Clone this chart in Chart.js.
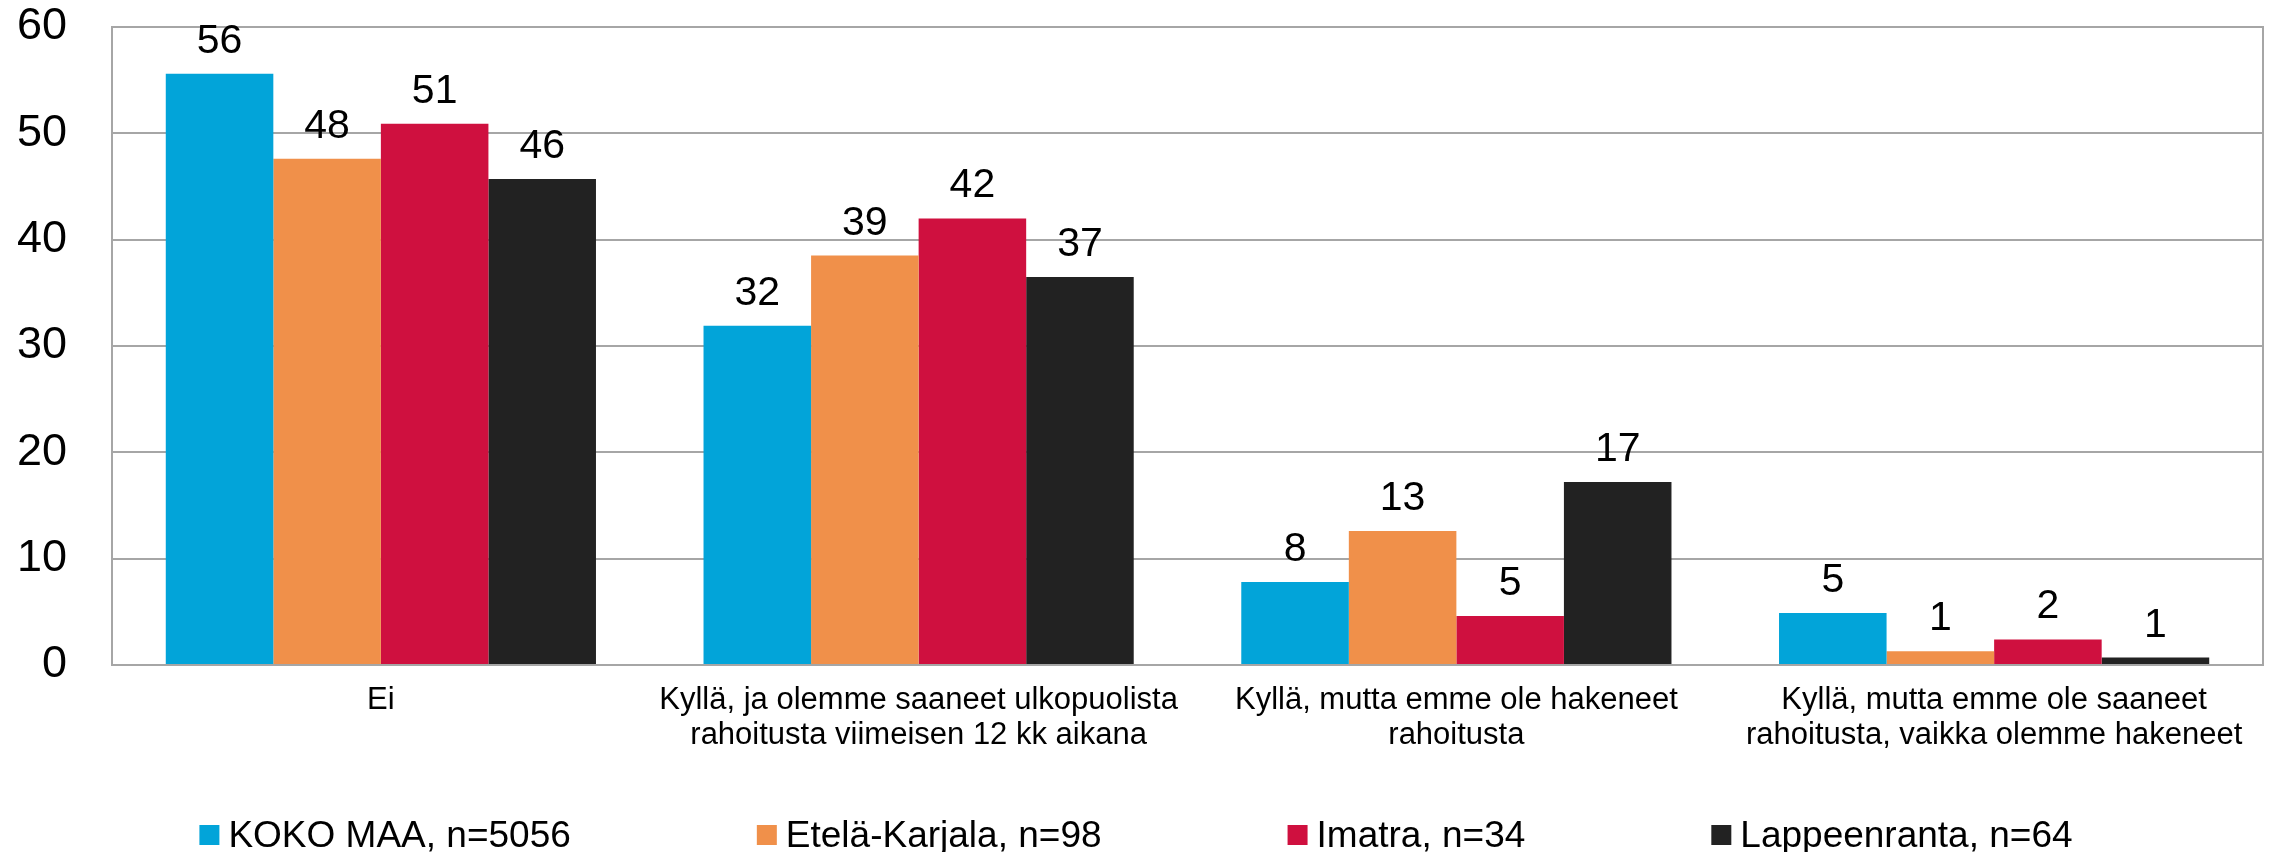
<!DOCTYPE html>
<html>
<head>
<meta charset="utf-8">
<script src="https://cdn.jsdelivr.net/npm/chart.js@4.4.0/dist/chart.umd.min.js"></script>
<style>
  html, body { margin: 0; padding: 0; background: #fff; }
  #wrap { width: 2272px; height: 852px; position: relative; }
</style>
</head>
<body>
<div id="wrap"><canvas id="chart"></canvas></div>
<script>
const categories = [
  "Ei",
  ["Kyllä, ja olemme saaneet ulkopuolista", "rahoitusta viimeisen 12 kk aikana"],
  ["Kyllä, mutta emme ole hakeneet", "rahoitusta"],
  ["Kyllä, mutta emme ole saaneet", "rahoitusta, vaikka olemme hakeneet"]
];
const seriesNames = ["KOKO MAA, n=5056", "Etelä-Karjala, n=98", "Imatra, n=34", "Lappeenranta, n=64"];
const kokoMaa = [55.6, 31.9, 7.8, 4.9];
const etelaKarjala = [47.6, 38.5, 12.6, 1.3];
const imatra = [50.9, 42.0, 4.6, 2.4];
const lappeenranta = [45.7, 36.5, 17.2, 0.7];
const yTicks = [0, 10, 20, 30, 40, 50, 60];
const colors = ["#02a4d9", "#f0904a", "#cf103f", "#222222"];

const fontFamily = '"Liberation Sans", Arial, sans-serif';
const gridColor = "#a6a6a6";

// numbers above the bars
const valueLabels = {
  id: "valueLabels",
  afterDatasetsDraw(chart) {
    const ctx = chart.ctx;
    ctx.save();
    ctx.font = "41px " + fontFamily;
    ctx.fillStyle = "#000";
    ctx.textAlign = "center";
    ctx.textBaseline = "alphabetic";
    chart.data.datasets.forEach((ds, i) => {
      chart.getDatasetMeta(i).data.forEach((bar, j) => {
        ctx.fillText(Math.round(ds.data[j]), bar.x, bar.y - 21);
      });
    });
    ctx.restore();
  }
};

// right edge of the plot box
const frame = {
  id: "frame",
  beforeDatasetsDraw(chart) {
    const a = chart.chartArea;
    const ctx = chart.ctx;
    ctx.save();
    ctx.strokeStyle = gridColor;
    ctx.lineWidth = 2;
    ctx.beginPath();
    ctx.moveTo(a.right, a.top - 1);
    ctx.lineTo(a.right, a.bottom);
    ctx.stroke();
    ctx.restore();
  }
};

// legend row at the bottom, spread out like the original
const bottomLegend = {
  id: "bottomLegend",
  afterDraw(chart) {
    const ctx = chart.ctx;
    const box = 20, gapText = 9, gapItem = 186;
    ctx.save();
    ctx.font = "37px " + fontFamily;
    ctx.textBaseline = "alphabetic";
    const widths = chart.data.datasets.map(ds => box + gapText + ctx.measureText(ds.label).width);
    const total = widths.reduce((s, w) => s + w, 0) + gapItem * (widths.length - 1);
    let x = (chart.width - total) / 2;
    const y = 847;
    chart.data.datasets.forEach((ds, i) => {
      ctx.fillStyle = ds.backgroundColor;
      ctx.fillRect(x, y - 22, box, box);
      ctx.fillStyle = "#000";
      ctx.fillText(ds.label, x + box + gapText, y);
      x += widths[i] + gapItem;
    });
    ctx.restore();
  }
};

const allSeries = [kokoMaa, etelaKarjala, imatra, lappeenranta];

new Chart(document.getElementById("chart"), {
  type: "bar",
  data: {
    labels: categories,
    datasets: allSeries.map((vals, i) => ({
      label: seriesNames[i],
      data: vals,
      backgroundColor: colors[i],
      borderWidth: 0,
      categoryPercentage: 0.8,
      barPercentage: 1
    }))
  },
  options: {
    responsive: true,
    maintainAspectRatio: false,
    animation: false,
    layout: { padding: { top: 27, right: 9, left: 0, bottom: 0 } },
    plugins: {
      legend: { display: false },
      tooltip: { enabled: false }
    },
    scales: {
      x: {
        grid: { display: false, drawTicks: false },
        border: { display: true, color: gridColor, width: 2 },
        ticks: {
          color: "#000",
          font: { family: fontFamily, size: 31, lineHeight: 1.16 },
          padding: 17,
          maxRotation: 0,
          autoSkip: false
        },
        afterFit(scale) {
          scale.height = 187;
          scale.paddingLeft = 0;
          scale.paddingRight = 0;
        }
      },
      y: {
        min: yTicks[0],
        max: yTicks[yTicks.length - 1],
        grid: { color: gridColor, lineWidth: 2, drawTicks: false },
        border: { display: true, color: gridColor, width: 2 },
        ticks: {
          stepSize: yTicks[1] - yTicks[0],
          color: "#000",
          font: { family: fontFamily, size: 45 },
          padding: 45
        },
        afterFit(scale) {
          scale.width = 112;
          scale.paddingTop = 0;
          scale.paddingBottom = 0;
        }
      }
    }
  },
  plugins: [valueLabels, frame, bottomLegend]
});
</script>
</body>
</html>
